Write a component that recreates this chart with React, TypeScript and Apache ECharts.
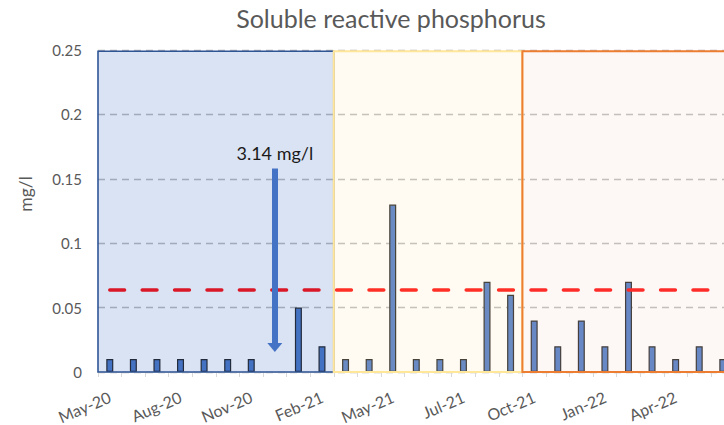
import React, { useEffect, useRef } from "react";
import * as echarts from "echarts";

// ---- data ----
const CATEGORIES = [
  "May-20", "Jun-20", "Jul-20", "Aug-20", "Sep-20", "Oct-20", "Nov-20", "Dec-20",
  "Jan-21", "Feb-21", "Mar-21", "Apr-21", "May-21", "Jun-21", "Jun-21", "Jul-21",
  "Aug-21", "Sep-21", "Oct-21", "Nov-21", "Dec-21", "Jan-22", "Feb-22", "Mar-22",
  "Apr-22", "May-22", "Jun-22",
];
const SRP_VALUES: (number | null)[] = [
  0.01, 0.01, 0.01, 0.01, 0.01, 0.01, 0.01, null, 0.05, 0.02, 0.01, 0.01, 0.13, 0.01,
  0.01, 0.01, 0.07, 0.06, 0.04, 0.02, 0.04, 0.02, 0.07, 0.02, 0.01, 0.02, 0.01,
];
const OFF_SCALE_INDEX = 7;
const OFF_SCALE_VALUE = 3.14;
const UNIT = "mg/l";
const THRESHOLD = 0.064;
const Y_MIN = 0;
const Y_MAX = 0.25;
const Y_STEP = 0.05;
// periods, in category units (start/end boundaries)
const PERIOD_STARTS = [0, 10, 18];
const PERIOD_ENDS = [10, 18, 27];

// ---- styles ----
const FONT = "Lato";
const TEXT = "#595959";
const PERIOD_STYLES = [
  { color: "rgba(68,114,196,0.2)", borderColor: "#2f5597", borderWidth: 1.6 },
  { color: "rgba(255,235,190,0.2)", borderColor: "#ffe699", borderWidth: 2 },
  { color: "rgba(245,220,205,0.2)", borderColor: "#ed7d31", borderWidth: 2 },
];

export default function App() {
  const ref = useRef<HTMLDivElement>(null);
  useEffect(() => {
    document.body.style.margin = "0";
    const chart = echarts.init(ref.current!, null, { renderer: "svg" });
    const n = CATEGORIES.length;
    const option: any = {
      animation: false,
      backgroundColor: "#ffffff",
      title: {
        text: "Soluble reactive phosphorus",
        left: 391,
        top: 5,
        padding: 0,
        textAlign: "center",
        textStyle: { color: TEXT, fontSize: 25, fontWeight: "normal", fontFamily: FONT },
      },
      grid: {
        left: 98,
        top: 50,
        width: 23.577 * n,
        height: 322,
        containLabel: false,
        outerBoundsMode: "none",
      },
      xAxis: [
        {
          type: "category",
          data: CATEGORIES,
          boundaryGap: true,
          axisLine: { lineStyle: { color: "#d9d9d9", width: 1 } },
          axisTick: { show: true, interval: 0, length: 5, lineStyle: { color: "#d9d9d9" } },
          axisLabel: {
            interval: 2,
            rotate: 23,
            margin: 24,
            color: TEXT,
            fontSize: 16,
            fontFamily: FONT,
          },
          splitLine: { show: false },
        },
        {
          type: "value",
          min: 0,
          max: n,
          show: false,
          gridIndex: 0,
        },
      ],
      yAxis: {
        type: "value",
        min: Y_MIN,
        max: Y_MAX,
        interval: Y_STEP,
        name: UNIT,
        nameLocation: "middle",
        nameRotate: 90,
        nameGap: 64,
        nameTextStyle: {
          color: TEXT,
          fontSize: 17.5,
          fontFamily: FONT,
          padding: [0, 0, 0, 34],
        },
        axisLine: { show: false },
        axisTick: { show: false },
        axisLabel: { color: TEXT, fontSize: 15, fontFamily: FONT, margin: 16 },
        splitLine: { lineStyle: { color: "#b8b8b8", width: 1.3, type: [7, 5] } },
      },
      series: [
        {
          type: "bar",
          name: "SRP",
          data: SRP_VALUES,
          barWidth: 7,
          itemStyle: { color: "#4472c4", borderColor: "#1a1a1a", borderWidth: 1.2 },
          markLine: {
            silent: true,
            z: 5,
            symbol: ["none", "none"],
            label: { show: false },
            lineStyle: { color: "#ff0000", width: 3.5, type: [14.8, 17.6], cap: "round" },
            data: [[{ coord: [0, THRESHOLD] }, { coord: [n - 1, THRESHOLD] }]],
          },
        },
        {
          type: "scatter",
          xAxisIndex: 1,
          data: [],
          silent: true,
          markArea: {
            silent: true,
            z: 10,
            data: PERIOD_STARTS.map((s, i) => [
              { xAxis: s, yAxis: Y_MIN, itemStyle: PERIOD_STYLES[i] },
              { xAxis: PERIOD_ENDS[i], yAxis: Y_MAX - 0.001 },
            ]),
          },
        },
        {
          type: "scatter",
          xAxisIndex: 0,
          data: [],
          silent: true,
          markLine: {
            silent: true,
            z: 20,
            symbol: ["none", "triangle"],
            symbolSize: [15, 9],
            lineStyle: { color: "#4472c4", width: 6, type: "solid", cap: "butt" },
            label: {
              show: true,
              position: "start",
              formatter: `${OFF_SCALE_VALUE} ${UNIT}`,
              color: "#1a1a1a",
              fontSize: 18,
              fontFamily: FONT,
              distance: 6,
            },
            data: [[{ coord: [OFF_SCALE_INDEX, 0.158] }, { coord: [OFF_SCALE_INDEX, 0.019] }]],
          },
        },
      ],
    };
    chart.setOption(option);
    return () => chart.dispose();
  }, []);
  return <div ref={ref} style={{ width: 724, height: 425 }} />;
}
